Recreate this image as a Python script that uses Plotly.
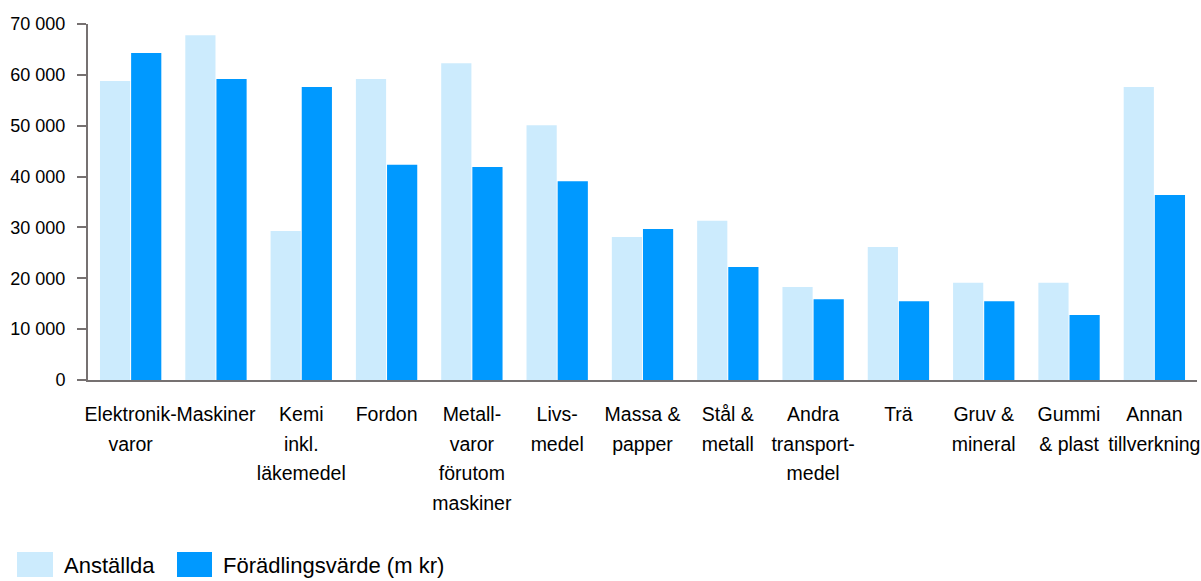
import plotly.graph_objects as go

categories = [
    "Elektronik-<br>varor", "Maskiner", "Kemi<br>inkl.<br>läkemedel", "Fordon",
    "Metall-<br>varor<br>förutom<br>maskiner", "Livs-<br>medel", "Massa &<br>papper",
    "Stål &<br>metall", "Andra<br>transport-<br>medel", "Trä", "Gruv &<br>mineral",
    "Gummi<br>& plast", "Annan<br>tillverkning",
]
anstallda = [58800, 67800, 29300, 59200, 62300, 50100, 28100, 31300, 18300, 26150, 19100, 19100, 57600]
foradling = [64300, 59200, 57600, 42300, 41900, 39100, 29700, 22200, 15900, 15500, 15500, 12800, 36400]
series_names = ["Anställda", "Förädlingsvärde (m kr)"]
colors = ["#CCEBFD", "#0099FF"]
yticks = [0, 10000, 20000, 30000, 40000, 50000, 60000, 70000]

FONT = "Liberation Sans, Arial, sans-serif"
W, H = 1201, 581
ML, MR, MT, MB = 88, 4, 24, 201
PW, PH = W - ML - MR, H - MT - MB

# wrap each label line in a smaller span so line spacing follows the larger base font
def styled(label, size=19.5):
    return "<br>".join(f"<span style='font-size:{size}px'>{ln}</span>" for ln in label.split("<br>"))

ticktext = [styled(c) for c in categories]

fig = go.Figure()
for name, vals, col in zip(series_names, [anstallda, foradling], colors):
    fig.add_trace(go.Bar(x=categories, y=vals, name=name, marker_color=col,
                         marker_line_width=0, showlegend=False))

axis_col = "#767171"
fig.update_layout(
    width=W, height=H,
    margin=dict(l=ML, r=MR, t=MT, b=MB, autoexpand=False),
    paper_bgcolor="white", plot_bgcolor="white",
    barmode="group", bargap=0.27, bargroupgap=0.03,
    separators=", ",
    font=dict(family=FONT, size=18, color="#000000"),
    xaxis=dict(showline=True, linecolor=axis_col, linewidth=2, ticks="",
               tickangle=0, showgrid=False, automargin=False,
               tickmode="array", tickvals=categories, ticktext=ticktext,
               ticklabelstandoff=11,
               tickfont=dict(family=FONT, size=23, color="#000000")),
    yaxis=dict(range=[0, 70000], tickvals=yticks, tickformat=",d",
               showline=True, linecolor=axis_col, linewidth=2,
               ticks="outside", ticklen=9, tickwidth=2, tickcolor=axis_col,
               showgrid=False, zeroline=False, automargin=False,
               ticklabelstandoff=8,
               tickfont=dict(family=FONT, size=18, color="#000000")),
)

def px_x(px):
    return (px - ML) / PW

def px_y(py):
    return (H - MB - py) / PH

legend_items = [(17, 53, 62), (177, 212, 221)]
for (x0, x1, tx), name, col in zip(legend_items, series_names, colors):
    fig.add_shape(type="rect", xref="paper", yref="paper",
                  x0=px_x(x0), x1=px_x(x1), y0=px_y(577), y1=px_y(552),
                  fillcolor=col, line_width=0)
    fig.add_annotation(xref="paper", yref="paper", x=px_x(tx), y=px_y(565),
                       text=name, showarrow=False, xanchor="left", yanchor="middle",
                       font=dict(family=FONT, size=22, color="#000000"))

fig.write_html("out.html", config={"displayModeBar": False},
               post_script="document.body.style.margin='0px';")
